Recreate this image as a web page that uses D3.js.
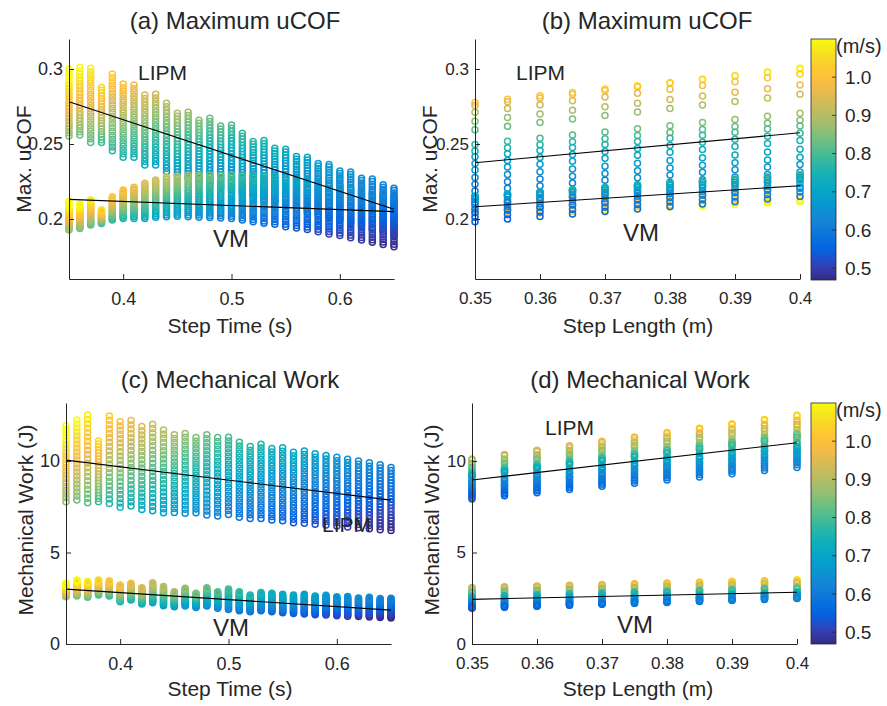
<!DOCTYPE html>
<html><head><meta charset="utf-8">
<script src="https://cdn.jsdelivr.net/npm/d3@7"></script>
<style>
body{margin:0;background:#fff}
text{font-family:"Liberation Sans",Arial,Helvetica,sans-serif;fill:#262626}
</style>
</head><body>
<svg id="fig" width="887" height="706"></svg>
<script>
// ---------------- data ----------------
// sweep of step times (columns of panels a, c; points inside the columns of d)
const stepTimes = [0.35,0.36,0.37,0.38,0.39,0.40,0.41,0.42,0.43,0.44,0.45,0.46,0.47,0.48,0.49,0.50,
                   0.51,0.52,0.53,0.54,0.55,0.56,0.57,0.58,0.59,0.60,0.61,0.62,0.63,0.64,0.65];
// step times shown inside the columns of panel b
const cofColTimes = [0.35,0.37,0.39,0.41,0.43,0.45,0.47,0.49,0.51,0.53,0.55,0.57,0.59,0.61,0.63,0.65];
// step lengths swept inside each step-time column (panels a, c)
const sweepLengths = [0.300,0.305,0.310,0.315,0.320,0.325,0.330,0.335,0.340,0.345,0.350,
                      0.355,0.360,0.365,0.370,0.375,0.380,0.385,0.390,0.395,0.400];
// step-length columns of panels b, d
const colLengths = [0.350,0.355,0.360,0.365,0.370,0.375,0.380,0.385,0.390,0.395,0.400];

// Max uCOF per step time at the longest (0.40 m) and shortest (0.30 m) step length
const lipmCofLong  = [0.300,0.301,0.3005,0.2876,0.2967,0.290,0.2893,0.2827,0.2831,0.2771,0.2705,0.2712,0.2658,0.2671,0.2620,0.2627,
                      0.2571,0.2516,0.2523,0.2471,0.2465,0.2416,0.2412,0.2370,0.2364,0.2320,0.2314,0.2272,0.2266,0.2228,0.2205];
const lipmCofShort = [0.2553,0.2560,0.2510,0.2510,0.2455,0.2411,0.2411,0.2360,0.2360,0.2315,0.2290,0.2275,0.2250,0.2235,0.2210,0.2195,
                      0.2170,0.2155,0.2130,0.2115,0.2090,0.2075,0.2050,0.2035,0.2010,0.1995,0.1970,0.1955,0.1930,0.1915,0.1890];
const vmCofLong    = [0.2116,0.2098,0.2127,0.2060,0.2149,0.2193,0.2211,0.2238,0.2260,0.2278,0.2287,0.2293,0.2293,0.2293,0.2293,0.2293,
                      0.2293,0.2289,0.2289,0.2282,0.2277,0.2270,0.2260,0.2245,0.2235,0.2220,0.2210,0.2190,0.2180,0.2165,0.2150];
const vmCofShort   = [0.1927,0.1937,0.1960,0.1970,0.1993,0.2004,0.2004,0.2004,0.2011,0.2015,0.2018,0.2015,0.2012,0.2010,0.2007,0.2004,
                      0.1993,0.1982,0.1971,0.1965,0.1949,0.1940,0.1930,0.1915,0.1900,0.1890,0.1875,0.1860,0.1845,0.1830,0.1815];
// Mechanical work (J) per step time at 0.40 m and 0.30 m step length
const lipmWorkLong  = [11.93,12.24,12.51,11.09,12.46,12.15,12.21,11.88,12.01,11.69,11.44,11.51,11.28,11.44,11.28,11.30,
                       11.02,10.79,10.91,10.69,10.73,10.48,10.55,10.40,10.30,10.20,10.10,10.00,9.90,9.80,9.65];
const lipmWorkShort = [7.78,7.87,7.72,7.78,7.68,7.47,7.54,7.35,7.28,7.17,7.19,7.14,7.17,7.05,6.99,7.08,
                       6.92,6.86,6.86,6.77,6.74,6.63,6.60,6.55,6.50,6.45,6.40,6.35,6.30,6.25,6.20];
const vmWorkLong    = [3.32,3.50,3.41,3.50,3.46,3.23,3.32,3.08,3.35,3.14,2.86,3.04,2.77,3.08,2.86,3.01,
                       2.86,2.68,2.81,2.77,2.72,2.68,2.72,2.62,2.66,2.58,2.60,2.52,2.55,2.48,2.50];
const vmWorkShort   = [2.58,2.62,2.55,2.68,2.62,2.31,2.40,2.18,2.26,2.09,2.04,2.07,2.00,2.07,1.95,1.89,
                       1.82,1.76,1.82,1.76,1.71,1.67,1.64,1.60,1.58,1.55,1.52,1.50,1.47,1.45,1.42];
// linear fits, value at the left and right end of each x axis
const fitCofTimeLipm = [0.2782,0.2065];
const fitCofTimeVm   = [0.2131,0.2049];
const fitCofLenLipm  = [0.2375,0.2575];
const fitCofLenVm    = [0.2082,0.2222];
const fitWorkTimeLipm = [10.05,7.86];
const fitWorkTimeVm   = [3.00,1.85];
const fitWorkLenLipm  = [8.96,11.00];
const fitWorkLenVm    = [2.44,2.83];

const timeTicks = [0.4,0.5,0.6];
const lengthTicks = [0.35,0.36,0.37,0.38,0.39,0.40];
const cofTicks = [0.2,0.25,0.3];
const workTicks = [0,5,10];
const speedTicks = [0.5,0.6,0.7,0.8,0.9,1.0];
const speedRange = [0.469,1.1];

// ---------------- helpers ----------------
const svg = d3.select("#fig");
// parula colormap (sampled)
const parula = [
  [0.2081,0.1663,0.5292],[0.1959,0.2645,0.7279],[0.0117,0.3875,0.8820],[0.0498,0.4586,0.8641],
  [0.0793,0.5200,0.8312],[0.0343,0.5966,0.8199],[0.0228,0.6535,0.7768],[0.0843,0.6928,0.7062],
  [0.2178,0.7250,0.6193],[0.3953,0.7459,0.5244],[0.5709,0.7485,0.4494],[0.7184,0.7411,0.3905],
  [0.8507,0.7299,0.3360],[0.9739,0.7314,0.2666],[0.9955,0.7861,0.1967],[0.9626,0.8705,0.1309],
  [0.9763,0.9831,0.0538]].map(c => d3.rgb(c[0]*255, c[1]*255, c[2]*255).formatHex());
const color = d3.scaleLinear()
  .domain(parula.map((_, i) => speedRange[0] + i * (speedRange[1] - speedRange[0]) / (parula.length - 1)))
  .range(parula).interpolate(d3.interpolateRgb).clamp(true);

const Lmin = sweepLengths[0], Lmax = sweepLengths[sweepLengths.length - 1];
function valueAt(longArr, shortArr, iT, L) {
  return shortArr[iT] + (longArr[iT] - shortArr[iT]) * (L - Lmin) / (Lmax - Lmin);
}

function drawAxes(g, x, y, xt, yt, xfmt, yfmt, fs) {
  const xa = g.append("g").attr("transform", `translate(0,${y.range()[0]})`)
    .call(d3.axisBottom(x).tickValues(xt).tickFormat(xfmt).tickSizeInner(-5).tickSizeOuter(0).tickPadding(13));
  const ya = g.append("g").attr("transform", `translate(${x.range()[0]},0)`)
    .call(d3.axisLeft(y).tickValues(yt).tickFormat(yfmt).tickSizeInner(-5).tickSizeOuter(0).tickPadding(6));
  [xa, ya].forEach(a => {
    a.select(".domain").attr("stroke", "#262626").attr("stroke-width", 1);
    a.selectAll(".tick line").attr("stroke", "#262626");
    a.selectAll(".tick text").attr("font-size", fs).attr("fill", "#262626")
      .style("font-family", "'Liberation Sans',Arial,sans-serif");
  });
}

function circles(g, pts, x, y) {
  g.append("g").selectAll("circle").data(pts).join("circle")
    .attr("cx", d => x(d.x)).attr("cy", d => y(d.y)).attr("r", 3.0)
    .attr("fill", "none").attr("stroke", d => color(d.s)).attr("stroke-width", 1.5);
}

function fitLine(g, x, y, ends) {
  const xs = x.domain();
  g.append("line").attr("x1", x(xs[0])).attr("x2", x(xs[1]))
    .attr("y1", y(ends[0])).attr("y2", y(ends[1]))
    .attr("stroke", "#000").attr("stroke-width", 1.1);
}

function text(t, px, py, fs, anchor, rot) {
  const el = svg.append("text").text(t).attr("font-size", fs).attr("text-anchor", anchor || "start");
  if (rot) el.attr("transform", `translate(${px},${py}) rotate(${rot})`);
  else el.attr("x", px).attr("y", py);
  return el;
}

// points: time panels (each step-time column holds the swept step lengths)
function timePoints(longArr, shortArr) {
  const pts = [];
  stepTimes.forEach((T, iT) => sweepLengths.forEach(L =>
    pts.push({x: T, y: valueAt(longArr, shortArr, iT, L), s: L / T})));
  return pts;
}
// points: length panels (each step-length column holds the given step times)
function lengthPoints(longArr, shortArr, times) {
  const pts = [];
  colLengths.forEach(L => times.forEach(T => {
    const iT = stepTimes.findIndex(t => Math.abs(t - T) < 1e-9);
    pts.push({x: L, y: valueAt(longArr, shortArr, iT, L), s: L / T});
  }));
  return pts;
}

const fTime = d => d3.format(".1f")(d);
const fLen = d => (Math.abs(d - 0.4) < 1e-9 ? "0.4" : d3.format(".2f")(d));
const fCof = d => (d === 0.25 ? "0.25" : d3.format(".1f")(d));
const fWork = d => String(d);

// ---------------- panel (a) ----------------
{
  const x = d3.scaleLinear().domain([0.35, 0.65]).range([69, 394]);
  const y = d3.scaleLinear().domain([0.16, 0.32]).range([279, 39]);
  const g = svg.append("g");
  circles(g, timePoints(lipmCofLong, lipmCofShort), x, y);
  circles(g, timePoints(vmCofLong, vmCofShort), x, y);
  fitLine(g, x, y, fitCofTimeLipm);
  fitLine(g, x, y, fitCofTimeVm);
  drawAxes(g, x, y, timeTicks, cofTicks, fTime, fCof, 18);
  text("(a) Maximum uCOF", 235, 29, 24, "middle");
  text("Step Time (s)", 230, 333, 21, "middle");
  text("Max. uCOF", 31, 159, 21, "middle", -90);
  text("LIPM", 138, 80, 21);
  text("VM", 213, 247, 24);
}
// ---------------- panel (b) ----------------
{
  const x = d3.scaleLinear().domain([0.35, 0.40]).range([475, 800]);
  const y = d3.scaleLinear().domain([0.16, 0.32]).range([279, 39]);
  const g = svg.append("g");
  circles(g, lengthPoints(lipmCofLong, lipmCofShort, cofColTimes), x, y);
  circles(g, lengthPoints(vmCofLong, vmCofShort, cofColTimes), x, y);
  fitLine(g, x, y, fitCofLenLipm);
  fitLine(g, x, y, fitCofLenVm);
  drawAxes(g, x, y, lengthTicks, cofTicks, fLen, fCof, 17);
  text("(b) Maximum uCOF", 647, 29, 24, "middle");
  text("Step Length (m)", 638, 333, 21, "middle");
  text("Max. uCOF", 437, 159, 21, "middle", -90);
  text("LIPM", 516, 80, 21);
  text("VM", 623, 241, 24);
}
// ---------------- panel (c) ----------------
{
  const x = d3.scaleLinear().domain([0.35, 0.65]).range([66, 391]);
  const y = d3.scaleLinear().domain([0, 13.17]).range([644, 403]);
  const g = svg.append("g");
  circles(g, timePoints(lipmWorkLong, lipmWorkShort), x, y);
  circles(g, timePoints(vmWorkLong, vmWorkShort), x, y);
  fitLine(g, x, y, fitWorkTimeLipm);
  fitLine(g, x, y, fitWorkTimeVm);
  drawAxes(g, x, y, timeTicks, workTicks, fTime, fWork, 18);
  text("(c) Mechanical Work", 230, 388, 24, "middle");
  text("Step Time (s)", 230, 696, 21, "middle");
  text("Mechanical Work (J)", 33, 520, 21, "middle", -90);
  text("LIPM", 322, 532, 21);
  text("VM", 213, 636, 24);
}
// ---------------- panel (d) ----------------
{
  const x = d3.scaleLinear().domain([0.35, 0.40]).range([472, 797]);
  const y = d3.scaleLinear().domain([0, 13.17]).range([644, 403]);
  const g = svg.append("g");
  circles(g, lengthPoints(lipmWorkLong, lipmWorkShort, stepTimes), x, y);
  circles(g, lengthPoints(vmWorkLong, vmWorkShort, stepTimes), x, y);
  fitLine(g, x, y, fitWorkLenLipm);
  fitLine(g, x, y, fitWorkLenVm);
  drawAxes(g, x, y, lengthTicks, workTicks, fLen, fWork, 17);
  text("(d) Mechanical Work", 640, 388, 24, "middle");
  text("Step Length (m)", 638, 696, 21, "middle");
  text("Mechanical Work (J)", 439, 520, 21, "middle", -90);
  text("LIPM", 545, 435, 21);
  text("VM", 617, 633, 24);
}

// ---------------- colorbars ----------------
const defs = svg.append("defs");
const grad = defs.append("linearGradient").attr("id", "parulaGrad")
  .attr("x1", 0).attr("y1", 1).attr("x2", 0).attr("y2", 0);
d3.range(0, 1.0001, 0.025).forEach(t => grad.append("stop")
  .attr("offset", t).attr("stop-color", color(speedRange[0] + t * (speedRange[1] - speedRange[0]))));

function colorbar(top, bottom) {
  const cy = d3.scaleLinear().domain(speedRange).range([bottom, top]);
  const x0 = 811, w = 25;
  const g = svg.append("g");
  g.append("rect").attr("x", x0).attr("y", top).attr("width", w).attr("height", bottom - top)
    .attr("fill", "url(#parulaGrad)").attr("stroke", "#262626").attr("stroke-width", 0.8);
  g.selectAll("line.t").data(speedTicks).join("line")
    .attr("x1", x0 + w - 4).attr("x2", x0 + w).attr("y1", d => cy(d)).attr("y2", d => cy(d))
    .attr("stroke", "#262626").attr("stroke-width", 0.8);
  g.selectAll("text.t").data(speedTicks).join("text")
    .attr("x", 845).attr("y", d => cy(d)).attr("dy", "0.35em")
    .attr("font-size", 19).text(d => d3.format(".1f")(d));
  text("(m/s)", 836, top + 14, 20, "start");
}
colorbar(39, 280);
colorbar(403, 644);
</script>
</body></html>
